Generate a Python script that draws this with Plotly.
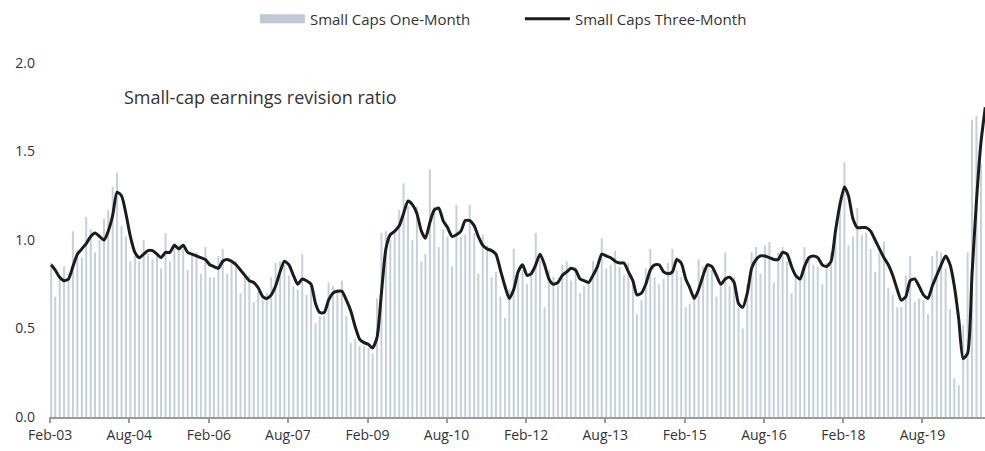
import pandas as pd
import plotly.graph_objects as go

# Monthly observations, Feb-2003 onward
start_month = "2003-02-01"
n_line = 213   # Feb-03 .. Oct-20
n_bar = 212    # Feb-03 .. Sep-20

one_month = [
    0.87, 0.68, 0.78, 0.85, 0.81, 1.05, 0.94, 0.90, 1.13, 1.06,
    0.93, 1.00, 1.12, 1.17, 1.30, 1.38, 1.08, 1.02, 0.88, 0.91,
    0.88, 1.00, 0.92, 0.89, 0.92, 0.84, 1.04, 0.88, 0.98, 0.97,
    0.95, 0.83, 0.91, 0.93, 0.81, 0.96, 0.79, 0.79, 0.91, 0.95,
    0.81, 0.89, 0.88, 0.70, 0.79, 0.80, 0.65, 0.71, 0.66, 0.70,
    0.79, 0.87, 0.88, 0.86, 0.80, 0.74, 0.72, 0.92, 0.69, 0.75,
    0.53, 0.57, 0.57, 0.76, 0.74, 0.72, 0.77, 0.57, 0.42, 0.44,
    0.40, 0.40, 0.39, 0.36, 0.67, 1.04, 1.05, 1.00, 1.05, 1.17,
    1.32, 1.19, 1.00, 1.19, 0.88, 0.92, 1.40, 1.19, 0.96, 1.06,
    1.02, 0.85, 1.20, 1.02, 1.03, 1.20, 1.04, 0.81, 1.03, 0.97,
    0.79, 0.82, 0.68, 0.56, 0.72, 0.95, 0.83, 0.83, 0.75, 0.83,
    1.04, 0.89, 0.62, 0.83, 0.79, 0.74, 0.86, 0.88, 0.77, 0.85,
    0.70, 0.74, 0.76, 0.88, 0.85, 1.01, 0.84, 0.86, 0.94, 0.85,
    0.80, 0.87, 0.77, 0.58, 0.66, 0.84, 0.95, 0.79, 0.75, 0.78,
    0.87, 0.95, 0.83, 0.79, 0.62, 0.64, 0.69, 0.89, 0.85, 0.87,
    0.83, 0.68, 0.74, 0.93, 0.74, 0.79, 0.62, 0.50, 0.75, 0.93,
    0.96, 0.81, 0.97, 0.99, 0.76, 0.93, 0.96, 0.88, 0.70, 0.81,
    0.79, 0.96, 0.91, 0.86, 0.85, 0.75, 0.87, 0.93, 1.03, 1.20,
    1.44, 0.97, 1.02, 1.18, 1.03, 1.04, 0.95, 0.82, 0.93, 0.99,
    0.73, 0.69, 0.62, 0.62, 0.80, 0.91, 0.65, 0.67, 0.66, 0.58,
    0.91, 0.94, 0.93, 0.84, 0.61, 0.22, 0.18, 0.52, 0.93, 1.68,
    1.70, 1.43,
]

three_month = [
    0.86, 0.83, 0.79, 0.77, 0.78, 0.85, 0.92, 0.95, 0.98, 1.02,
    1.04, 1.02, 1.00, 1.05, 1.14, 1.27, 1.25, 1.15, 1.02, 0.93,
    0.90, 0.92, 0.94, 0.94, 0.92, 0.90, 0.93, 0.93, 0.97, 0.95,
    0.97, 0.93, 0.92, 0.91, 0.90, 0.89, 0.86, 0.85, 0.84, 0.88,
    0.89, 0.88, 0.86, 0.83, 0.80, 0.77, 0.76, 0.73, 0.68, 0.67,
    0.69, 0.74, 0.82, 0.88, 0.86, 0.80, 0.75, 0.78, 0.77, 0.75,
    0.64, 0.59, 0.59, 0.66, 0.70, 0.71, 0.71, 0.66, 0.60, 0.51,
    0.44, 0.42, 0.41, 0.39, 0.45, 0.70, 0.95, 1.03, 1.05, 1.08,
    1.15, 1.22, 1.20, 1.15, 1.05, 1.01, 1.10, 1.17, 1.18, 1.11,
    1.07, 1.02, 1.03, 1.05, 1.11, 1.11, 1.08, 1.02, 0.97, 0.95,
    0.94, 0.92, 0.83, 0.74, 0.67, 0.72, 0.82, 0.86, 0.80, 0.81,
    0.86, 0.92, 0.86, 0.78, 0.75, 0.76, 0.80, 0.82, 0.84, 0.83,
    0.78, 0.77, 0.76, 0.80, 0.85, 0.92, 0.91, 0.90, 0.88, 0.87,
    0.87, 0.82, 0.77, 0.69, 0.70, 0.75, 0.83, 0.86, 0.86, 0.82,
    0.81, 0.82, 0.89, 0.87, 0.78, 0.73, 0.67, 0.72, 0.80, 0.86,
    0.85, 0.80, 0.75, 0.78, 0.79, 0.76, 0.64, 0.62, 0.70, 0.84,
    0.89, 0.91, 0.91, 0.90, 0.89, 0.89, 0.93, 0.92, 0.85, 0.80,
    0.78, 0.85, 0.90, 0.91, 0.90, 0.86, 0.85, 0.88, 1.05, 1.20,
    1.30, 1.25, 1.12, 1.07, 1.07, 1.07, 1.05, 1.00, 0.95, 0.90,
    0.86, 0.80, 0.72, 0.66, 0.68, 0.77, 0.78, 0.74, 0.69, 0.67,
    0.74, 0.80, 0.86, 0.91, 0.86, 0.74, 0.55, 0.33, 0.36, 0.80,
    1.22, 1.55, 1.75,
]

tick_dates = ["2003-02-01", "2004-08-01", "2006-02-01", "2007-08-01",
              "2009-02-01", "2010-08-01", "2012-02-01", "2013-08-01",
              "2015-02-01", "2016-08-01", "2018-02-01", "2019-08-01"]
tick_labels = ["Feb-03", "Aug-04", "Feb-06", "Aug-07", "Feb-09", "Aug-10",
               "Feb-12", "Aug-13", "Feb-15", "Aug-16", "Feb-18", "Aug-19"]
y_ticks = [0.0, 0.5, 1.0, 1.5, 2.0]

months = pd.date_range(start_month, periods=n_line, freq="MS") + pd.Timedelta(days=7)

FONT = "Open Sans"
BAR_COLOR = "#c6d0dc"
fig = go.Figure()
fig.add_trace(go.Bar(
    x=months[:n_bar], y=one_month, name="Small Caps One-Month",
    marker=dict(color=BAR_COLOR, line=dict(width=0)), showlegend=False,
))
# legend swatch for the bars (wide rectangle as in the original)
fig.add_trace(go.Scatter(
    x=[None], y=[None], name="Small Caps One-Month", mode="lines",
    line=dict(color="#bfc9d5", width=9),
))
fig.add_trace(go.Scatter(
    x=months, y=three_month, name="Small Caps Three-Month", mode="lines",
    line=dict(color="#1c1c1c", width=3, shape="spline", smoothing=0.6),
))

fig.update_layout(
    width=985, height=451,
    margin=dict(l=49, r=0, t=63, b=34, autoexpand=False),
    paper_bgcolor="white", plot_bgcolor="white",
    bargap=0.5,
    font=dict(family=FONT, size=14, color="#333333"),
    showlegend=True,
    legend=dict(orientation="h", x=0.220, xanchor="left", y=1.124, yanchor="middle",
                font=dict(size=15, color="#333333"), itemwidth=45,
                entrywidth=205, entrywidthmode="pixels",
                traceorder="normal"),
    annotations=[dict(text="Small-cap earnings revision ratio", xref="paper", yref="paper",
                      x=0.078, y=0.904, xanchor="left", yanchor="middle",
                      showarrow=False, font=dict(size=18, color="#333333"))],
)
fig.update_xaxes(
    type="date", range=["2003-01-24", "2020-10-06"],
    tickvals=tick_dates, ticktext=tick_labels,
    showline=True, linecolor="#9a9a9a", linewidth=1.5,
    ticks="outside", ticklen=4, tickcolor="#9a9a9a", tickwidth=1.5,
    showgrid=False, zeroline=False, automargin=False,
    tickfont=dict(size=14, color="#333333"),
)
fig.update_yaxes(
    range=[0, 2.0], tickvals=y_ticks, tickformat=".1f",
    showline=False, showgrid=False, zeroline=False,
    ticks="", ticklabelstandoff=13, automargin=False,
    tickfont=dict(size=14, color="#333333"),
)

fig.write_html(
    "out.html",
    config={"displayModeBar": False},
    post_script="document.body.style.margin='0';document.body.style.overflow='hidden';",
)
